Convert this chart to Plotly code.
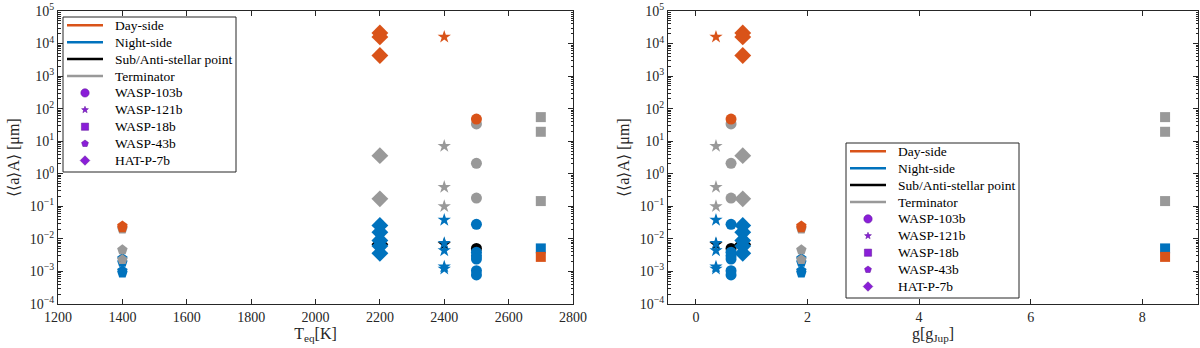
import math

import plotly.graph_objects as go

# ---------------------------------------------------------------------------
# Data
# ---------------------------------------------------------------------------
planets = ["WASP-103b", "WASP-121b", "WASP-18b", "WASP-43b", "HAT-P-7b"]
symbols = ["circle", "star", "square", "pentagon", "diamond"]
msizes = [11, 10, 10, 11, 13]

teq = [2500, 2400, 2700, 1400, 2200]          # equilibrium temperature [K]
grav = [0.63, 0.36, 8.41, 1.89, 0.84]          # surface gravity [g_Jup]

day_side = [
    [48],
    [1.6e4],
    [0.0028],
    [0.025, 0.022],
    [2.1e4, 1.6e4, 4.3e3],
]
night_side = [
    [0.028, 0.0039, 0.003, 0.0024, 0.00105, 0.00078],
    [0.038, 0.0074, 0.0044, 0.0014, 0.0012],
    [0.0051],
    [0.0025, 0.0019, 0.00105, 0.0009],
    [0.026, 0.016, 0.009, 0.006, 0.0036],
]
sub_anti = [
    [0.0051],
    [0.0068],
    [],
    [],
    [0.0068],
]
terminator = [
    [34, 2.1, 0.18],
    [7.1, 0.39, 0.10],
    [55, 19.5, 0.145],
    [0.02, 0.0046, 0.0023],
    [3.6, 0.17],
]

regions = ["Day-side", "Night-side", "Sub/Anti-stellar point", "Terminator"]
region_colors = {
    "Day-side": "#D95319",
    "Night-side": "#0072BD",
    "Sub/Anti-stellar point": "#000000",
    "Terminator": "#999999",
}
region_data = {
    "Day-side": day_side,
    "Night-side": night_side,
    "Sub/Anti-stellar point": sub_anti,
    "Terminator": terminator,
}
draw_order = ["Sub/Anti-stellar point", "Night-side", "Terminator", "Day-side"]

PURPLE = "#8A1ED8"
FONT = "Liberation Serif"
W, H = 1200, 348

ytick_exp = list(range(-4, 6))
ytick_text = [f"10<sup>{e}</sup>".replace("-", "\u2212") for e in ytick_exp]
minor_vals = [k * 10.0 ** e for e in range(-4, 5) for k in range(2, 10)]

# ---------------------------------------------------------------------------
# Scatter traces
# ---------------------------------------------------------------------------
fig = go.Figure()

for xaxis, yaxis, xs in (("x", "y", teq), ("x2", "y2", grav)):
    for region in draw_order:
        for i, planet in enumerate(planets):
            vals = region_data[region][i]
            if not vals:
                continue
            fig.add_trace(go.Scatter(
                x=[xs[i]] * len(vals), y=vals, mode="markers",
                marker=dict(symbol=symbols[i], size=msizes[i],
                            color=region_colors[region], line=dict(width=0)),
                xaxis=xaxis, yaxis=yaxis, showlegend=False,
                hovertemplate=f"{planet} ({region})<br>%{{x}}, %{{y}}<extra></extra>",
            ))


# ---------------------------------------------------------------------------
# Hand-built legends (MATLAB-style: compact rows)
# ---------------------------------------------------------------------------
def _px(x, y):
    return x / W, 1 - y / H


def _poly(cx, cy, r_out, r_in, n, rot=-90):
    pts = []
    step = 360 / (n * (2 if r_in else 1))
    for k in range(n * (2 if r_in else 1)):
        r = r_out if (not r_in or k % 2 == 0) else r_in
        a = math.radians(rot + k * step)
        pts.append(_px(cx + r * math.cos(a), cy + r * math.sin(a)))
    return "M " + " L ".join(f"{px:.5f},{py:.5f}" for px, py in pts) + " Z"


def _symbol_shape(sym, cx, cy):
    base = dict(type="path", xref="paper", yref="paper", layer="above",
                fillcolor=PURPLE, line=dict(color="#5a0f96", width=0.5))
    if sym == "circle":
        x0, y0 = _px(cx - 4.2, cy - 4.2)
        x1, y1 = _px(cx + 4.2, cy + 4.2)
        return dict(base, type="circle", x0=x0, y0=y0, x1=x1, y1=y1)
    if sym == "square":
        x0, y0 = _px(cx - 3.6, cy - 3.6)
        x1, y1 = _px(cx + 3.6, cy + 3.6)
        return dict(base, type="rect", x0=x0, y0=y0, x1=x1, y1=y1)
    if sym == "star":
        return dict(base, path=_poly(cx, cy, 3.6, 1.5, 5))
    if sym == "pentagon":
        return dict(base, path=_poly(cx, cy, 3.6, 0, 5))
    return dict(base, path=_poly(cx, cy, 4.8, 0, 4))  # diamond


def add_legend(x0, y0):
    box_w, box_h, row = 173, 155, 16.9
    bx0, by0 = _px(x0, y0)
    bx1, by1 = _px(x0 + box_w, y0 + box_h)
    fig.add_shape(type="rect", xref="paper", yref="paper", layer="above",
                  x0=bx0, y0=by0, x1=bx1, y1=by1, fillcolor="white",
                  line=dict(color="#262626", width=1))
    entries = [(r, None) for r in regions] + list(zip(planets, symbols))
    for i, (name, sym) in enumerate(entries):
        cy = y0 + 8.3 + row * i
        if sym is None:
            lx0, ly = _px(x0 + 4, cy)
            lx1, _ = _px(x0 + 40, cy)
            fig.add_shape(type="line", xref="paper", yref="paper", layer="above",
                          x0=lx0, y0=ly, x1=lx1, y1=ly,
                          line=dict(color=region_colors[name], width=2.5))
        else:
            fig.add_shape(_symbol_shape(sym, x0 + 22, cy))
        tx, ty = _px(x0 + 49.5, cy)
        fig.add_annotation(x=tx, y=ty, xref="paper", yref="paper", text=name,
                           showarrow=False, xanchor="left", yanchor="middle",
                           font=dict(family=FONT, size=13.5, color="#000000"))


add_legend(63, 17)
add_legend(846, 143)

# ---------------------------------------------------------------------------
# Axes / layout
# ---------------------------------------------------------------------------
axis_common = dict(
    showline=True, linecolor="#262626", linewidth=1, mirror="ticks",
    ticks="inside", ticklen=5, tickcolor="#262626", showgrid=False,
    zeroline=False, automargin=False,
    tickfont=dict(family=FONT, size=14, color="#262626"),
)
yaxis_common = dict(
    axis_common, type="log", range=[-4, 5],
    tickvals=[10.0 ** e for e in ytick_exp], ticktext=ytick_text,
    minor=dict(ticks="inside", ticklen=2.5, tickcolor="#262626",
               tickvals=minor_vals, showgrid=False),
    title=dict(text="\u27e8\u27e8a\u27e9A\u27e9 [\u03bcm]", standoff=6,
               font=dict(family=FONT, size=16, color="#262626")),
)

fig.update_layout(
    width=W, height=H, template="none", showlegend=False,
    paper_bgcolor="white", plot_bgcolor="white",
    margin=dict(l=0, r=0, t=0, b=0),
    font=dict(family=FONT, size=14, color="#262626"),
    xaxis=dict(axis_common, domain=[58 / W, 573 / W], range=[1200, 2800],
               dtick=200, anchor="y",
               title=dict(text="T<sub>eq</sub>[K]", standoff=0,
                          font=dict(family=FONT, size=16, color="#262626"))),
    yaxis=dict(yaxis_common, domain=[1 - 304 / H, 1 - 11 / H], anchor="x"),
    xaxis2=dict(axis_common, domain=[668 / W, 1198 / W], range=[-0.5, 9],
                tickvals=[0, 2, 4, 6, 8], anchor="y2",
                title=dict(text="g[g<sub>Jup</sub>]", standoff=0,
                           font=dict(family=FONT, size=16, color="#262626"))),
    yaxis2=dict(yaxis_common, domain=[1 - 304 / H, 1 - 11 / H], anchor="x2"),
)

fig.write_html("out.html", config={"displayModeBar": False},
               post_script="document.body.style.margin='0';")
